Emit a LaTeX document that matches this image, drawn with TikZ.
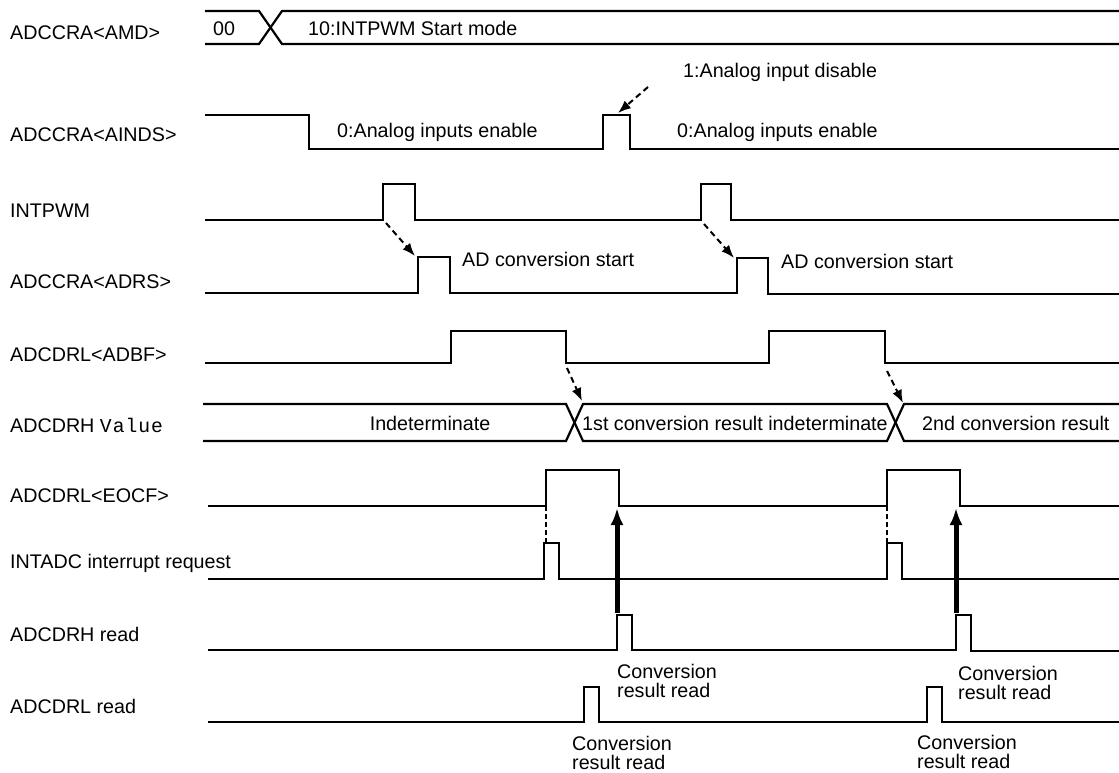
\documentclass[tikz,border=0pt]{standalone}
\usepackage{fontspec}
\setmainfont{Liberation Sans}
\newfontfamily\valfont[LetterSpace=5]{Liberation Mono}
\usetikzlibrary{arrows.meta}

\begin{document}
\begin{tikzpicture}[
    x=1pt, y=-1pt,
    font=\fontsize{19.7}{19.5}\selectfont,
    wave/.style={line width=2.2pt, line join=miter},
    lbl/.style={anchor=west, inner sep=0pt},
    txt/.style={inner sep=0pt},
    cause/.style={-{Latex[length=13pt, width=10pt]}, line width=2pt, dash pattern=on 6pt off 4pt},
    guide/.style={line width=1.2pt, dash pattern=on 5pt off 3pt},
    readarrow/.style={-{Latex[length=17pt, width=13pt]}, line width=5pt}
]
\useasboundingbox (0,0) rectangle (1119,773);

% signal names
\node[lbl] (amd) at (10,33) {ADCCRA<AMD>};
\node[lbl] (ainds) at (10,135) {ADCCRA<AINDS>};
\node[lbl] (intpwm) at (10,211) {INTPWM};
\node[lbl] (adrs) at (10,282) {ADCCRA<ADRS>};
\node[lbl] (adbf) at (10,355) {ADCDRL<ADBF>};
\node[lbl] (value) at (10,425) {ADCDRH {\valfont Value}};
\node[lbl] (eocf) at (10,496) {ADCDRL<EOCF>};
\node[lbl] (intadc) at (10,563) {INTADC interrupt request};
\node[lbl] (rdh) at (10,634) {ADCDRH read};
\node[lbl] (rdl) at (10,706) {ADCDRL read};

% ADCCRA<AMD>
\draw[wave] (205,11) -- (259,11) -- (282,44) -- (1119,44);
\draw[wave] (205,44) -- (259,44) -- (282,11) -- (1119,11);
\node[txt] (mode0) at (224,29) {00};
\node[txt, anchor=west] (mode2) at (308,28) {10:INTPWM Start mode};

% ADCCRA<AINDS>
\draw[wave] (205,115) -- (309,115) -- (309,149) -- (603,149) -- (603,115)
    -- (630,115) -- (630,149) -- (1119,149);
\node[txt, anchor=west] (enable1) at (337,132) {0:Analog inputs enable};
\node[txt, anchor=west] (enable2) at (677,132) {0:Analog inputs enable};
\node[txt, anchor=west] (disable) at (683,72) {1:Analog input disable};
\coordinate (disfrom) at (648,87);
\coordinate (disto) at (618,113);
\draw[cause] (disfrom) -- (disto);

% INTPWM
\draw[wave] (205,220) -- (383,220) -- (383,184) -- (415,184) -- (415,220)
    -- (701,220) -- (701,184) -- (731,184) -- (731,220) -- (1119,220);

% ADCCRA<ADRS>
\draw[wave] (205,293) -- (418,293) -- (418,257) -- (450,257) -- (450,293)
    -- (737,293) -- (737,258) -- (768,258) -- (768,294) -- (1119,294);
\node[txt, anchor=west] (start1) at (462,259) {AD conversion start};
\node[txt, anchor=west] (start2) at (781,261) {AD conversion start};
\coordinate (pwm1) at (386,223);
\coordinate (adrs1) at (415,256);
\coordinate (pwm2) at (704,224);
\coordinate (adrs2) at (734,258);
\draw[cause] (pwm1) -- (adrs1);
\draw[cause] (pwm2) -- (adrs2);

% ADCDRL<ADBF>
\draw[wave] (205,363) -- (451,363) -- (451,331) -- (566,331) -- (566,363)
    -- (769,363) -- (769,331) -- (885,331) -- (885,363) -- (1119,363);

% ADCDRH value
\draw[wave] (203,404) -- (566,404) -- (583,441) -- (887,441) -- (904,404) -- (1119,404);
\draw[wave] (203,441) -- (566,441) -- (583,404) -- (887,404) -- (904,441) -- (1119,441);
\node[txt] (indet) at (430,423) {Indeterminate};
\node[txt, anchor=west] (res1) at (582,423) {1st conversion result indeterminate};
\node[txt, anchor=west] (res2) at (922,423) {2nd conversion result};
\coordinate (bf1) at (567,368);
\coordinate (val1) at (582,401);
\coordinate (bf2) at (887,371);
\coordinate (val2) at (903,403);
\draw[cause] (bf1) -- (val1);
\draw[cause] (bf2) -- (val2);

% ADCDRL<EOCF>
\draw[wave] (208,506) -- (546,506) -- (546,470) -- (619,470) -- (619,506)
    -- (887,506) -- (887,470) -- (960,470) -- (960,506) -- (1119,506);

% INTADC
\draw[wave] (208,579) -- (544,579) -- (544,543) -- (559,543) -- (559,579)
    -- (887,579) -- (887,543) -- (902,543) -- (902,579) -- (1119,579);
\coordinate (eoc1) at (546,506);
\coordinate (irq1) at (546,543);
\coordinate (eoc2) at (887,506);
\coordinate (irq2) at (887,543);
\draw[guide] (eoc1) -- (irq1);
\draw[guide] (eoc2) -- (irq2);

% ADCDRH read
\draw[wave] (208,650) -- (617,650) -- (617,615) -- (632,615) -- (632,650)
    -- (956,650) -- (956,615) -- (971,615) -- (971,651) -- (1119,651);
\coordinate (rh1) at (617,613);
\coordinate (clr1) at (617,508);
\coordinate (rh2) at (956,613);
\coordinate (clr2) at (956,508);
\draw[readarrow] (rh1) -- (clr1);
\draw[readarrow] (rh2) -- (clr2);
\node[txt, anchor=west, align=left] (readh1) at (617,681) {Conversion\\result read};
\node[txt, anchor=west, align=left] (readh2) at (958,683) {Conversion\\result read};

% ADCDRL read
\draw[wave] (208,722) -- (584,722) -- (584,687) -- (599,687) -- (599,722)
    -- (927,722) -- (927,687) -- (942,687) -- (942,722) -- (1119,722);
\node[txt, anchor=west, align=left] (readl1) at (572,753) {Conversion\\result read};
\node[txt, anchor=west, align=left] (readl2) at (917,752) {Conversion\\result read};
\end{tikzpicture}
\end{document}
